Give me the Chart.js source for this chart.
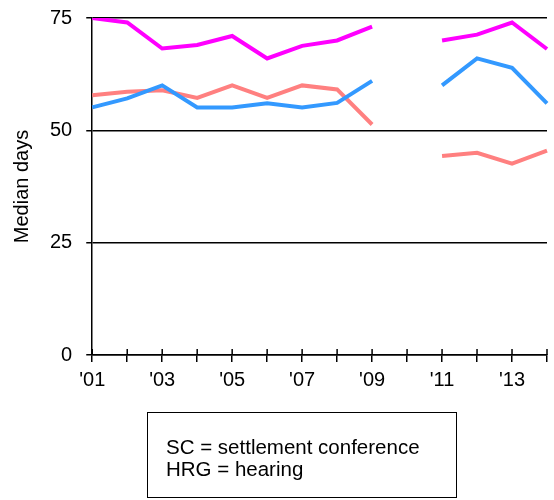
<!DOCTYPE html>
<html><head><meta charset="utf-8">
<script src="https://cdn.jsdelivr.net/npm/chart.js@4/dist/chart.umd.min.js"></script>
<style>
html,body{margin:0;padding:0;background:#fff;}
#wrap{position:relative;width:554px;height:500px;}
#legendBox{position:absolute;left:147px;top:412px;width:308px;height:84px;border:1px solid #000;box-sizing:content-box;font-family:"Liberation Sans",Arial,sans-serif;font-size:20.5px;line-height:22px;color:#000;}
#legendBox div{padding-left:18px;}
</style></head>
<body>
<div id="wrap">
<canvas id="c" width="554" height="500"></canvas>
<div id="legendBox"><div style="padding-top:23px">SC = settlement conference</div><div>HRG = hearing</div></div>
</div>
<script>
const categories = [2001,2002,2003,2004,2005,2006,2007,2008,2009,2010,2011,2012,2013,2014];
const tickLabels = ["'01","","'03","","'05","","'07","","'09","","'11","","'13",""];
const magentaSeries = [75,74,68.2,69,71,66,68.8,70,73.1,null,70,71.3,74,68.1];
const blueSeries = [55.1,57.1,60,55.1,55.1,56,55.1,56.1,61,null,60,66,63.9,56];
const salmonSeries = [57.8,58.6,58.9,57.2,60,57.2,60,59.1,51.3,null,44.3,45,42.6,45.5];
const yTicks = [0,25,50,75];

const font = {family:'"Liberation Sans", Arial, sans-serif', size:20};
const ds = (data,color)=>({data, borderColor:color, backgroundColor:color, borderWidth:4, pointRadius:0, tension:0, spanGaps:false, fill:false});

const innerTicks = {
  id:'innerTicks',
  afterDraw(chart){
    const x = chart.scales.x, ctx = chart.ctx, y0 = chart.chartArea.bottom;
    ctx.save();
    ctx.strokeStyle = '#000'; ctx.lineWidth = 1.5;
    x.ticks.forEach((t,i)=>{
      const px = x.getPixelForTick(i);
      ctx.beginPath(); ctx.moveTo(px, y0); ctx.lineTo(px, y0-6); ctx.stroke();
    });
    ctx.restore();
  }
};

new Chart(document.getElementById('c'),{
  type:'line',
  data:{labels:categories, datasets:[ds(magentaSeries,'#ff00ff'),ds(blueSeries,'#3399ff'),ds(salmonSeries,'#ff8080')]},
  options:{
    responsive:false, animation:false,
    layout:{padding:{top:18,right:7,left:6,bottom:102}},
    plugins:{legend:{display:false},tooltip:{enabled:false}},
    scales:{
      x:{type:'category', offset:false,
        grid:{drawOnChartArea:false, drawTicks:true, tickLength:7, color:'#000', lineWidth:1.5},
        border:{display:true,color:'#000',width:1.5},
        ticks:{autoSkip:false, maxRotation:0, color:'#000', font, padding:6,
          callback:(v,i)=>tickLabels[i]}
      },
      y:{min:0,max:75,
        afterBuildTicks:(s)=>{s.ticks = yTicks.map(v=>({value:v}));},
        afterFit:(s)=>{s.paddingTop = 0; s.paddingBottom = 0;},
        grid:{color:'#000', lineWidth:1.5, drawTicks:true, tickLength:6},
        border:{display:true,color:'#000',width:1.5},
        ticks:{color:'#000', font, padding:14},
        title:{display:true,text:'Median days',color:'#000',font,padding:{top:4,bottom:2}}
      }
    }
  },
  plugins:[innerTicks]
});
</script>
</body></html>
